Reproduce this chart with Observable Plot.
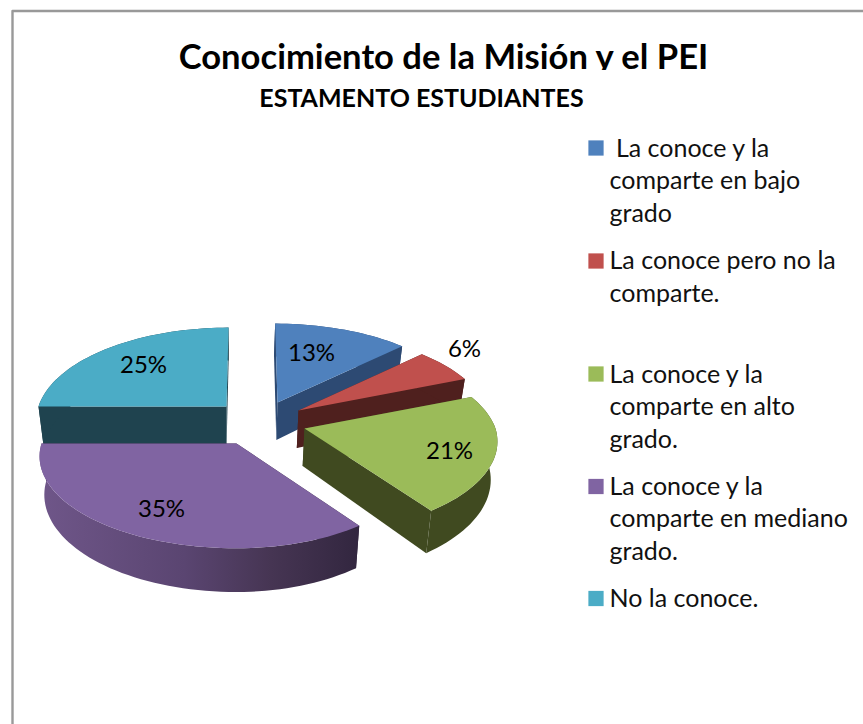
<!DOCTYPE html>
<html><head><meta charset="utf-8">
<style>html,body{margin:0;padding:0;background:#fff}svg{display:block}</style>
<script src="https://cdn.jsdelivr.net/npm/d3@7"></script>
<script src="https://cdn.jsdelivr.net/npm/@observablehq/plot@0.6"></script>
</head><body><script>
const categories = [" La conoce y la\ncomparte en bajo\ngrado","La conoce pero no la\ncomparte.","La conoce y la\ncomparte en alto\ngrado.","La conoce y la\ncomparte en mediano\ngrado.","No la conoce."];
const shares = [13,6,21,35,25];
const topColors = ["#4f81bd","#c0504d","#9bbb59","#8064a2","#4bacc6"];
const sideColors = ["#2d4a73","#4f201e","#404a20","url(#rimGrad)","#1f434f"];
const rimStops = [[0,"#6f5689"],[0.45,"#5a4571"],[0.72,"#463553"],[1,"#32263f"]];

// Projection layout of the exploded 3D pie
const apexX=[277,298,304,236,226], apexY=[402,410,428,443,406];
const radiusX=[190,190,191,195,188], radiusXRight=[190,190,191,185,188];
const radiusY=90, persp=0.141, depth=37.6, vanishX=250, vanishK=0.7, baseX=230, baseScale=0.975;
const labelX=[311,464,449,161,143], labelY=[353,349,451,509,365];
const legendY=[133,245.5,359,471,583], legendSwatchY=[147.5,260.5,373.5,486,598];

const project=(i,deg)=>{
  const a=deg*Math.PI/180, X=Math.sin(a), Y=Math.cos(a), d=1+persp*Y;
  const sh=Y>0?vanishK*(vanishX-apexX[i])*(1-1/d):0;
  const rx=X>0?radiusXRight[i]:radiusX[i];
  return {x:apexX[i]+rx*X/d+sh, y:apexY[i]-radiusY*Y/d, d};
};
const lower=p=>({x:baseX+(p.x-baseX)*baseScale, y:p.y+depth/p.d});

const rows=[]; let id=0;
const addPoly=(pts,fill)=>{id++; pts.forEach(p=>rows.push({x:p.x,y:p.y,z:id,fill}));};

const drawOrder=[4,0,1,3,2];
const cum=[0]; shares.forEach(v=>cum.push(cum[cum.length-1]+v));
for(const i of drawOrder){
  const a0=cum[i]*3.6, a1=cum[i+1]*3.6;
  const n=Math.max(8,Math.round((a1-a0)/2));
  const rim=d3.range(n+1).map(j=>project(i,a0+(a1-a0)*j/n));
  const apex={x:apexX[i],y:apexY[i],d:1};
  const first=rim[0], last=rim[n];
  const flat=i===3?"#33263f":sideColors[i];
  addPoly([apex,first,lower(first),lower(apex)],flat);
  addPoly([apex,last,lower(last),lower(apex)],flat);
  addPoly([...rim,...rim.map(lower).reverse()],sideColors[i]);
  addPoly([apex,...rim],topColors[i]);
}

const title=[{t:"Conocimiento de la Misión y el PEI",x:443,y:57}];
const subtitle=[{t:"ESTAMENTO ESTUDIANTES",x:421,y:98}];
const titleClip=[{x1:170,x2:720,y1:70,y2:80}];
const pct=shares.map((v,i)=>({t:v+"%",x:labelX[i],y:labelY[i]}));
const legend=categories.map((t,i)=>({t,x:609,y:legendY[i],c:topColors[i],sy:legendSwatchY[i]}));

const gradient=()=>{
  const defs=d3.create("svg:defs");
  const g=defs.append("linearGradient").attr("id","rimGrad").attr("gradientUnits","userSpaceOnUse")
    .attr("x1",40).attr("x2",360).attr("y1",0).attr("y2",0);
  rimStops.forEach(([o,c])=>g.append("stop").attr("offset",o).attr("stop-color",c));
  return defs.node();
};

const chart=Plot.plot({
  width:863,height:724,margin:0,
  x:{domain:[0,863],range:[0,863],axis:null},
  y:{domain:[0,724],range:[0,724],axis:null},
  style:{background:"#fff"},
  marks:[
    gradient,
    Plot.line([{x:12,y:724},{x:12,y:10.5},{x:863,y:10.5}],{x:"x",y:"y",stroke:"#999",strokeWidth:2.4}),
    Plot.line(rows,{x:"x",y:"y",z:"z",fill:"fill",stroke:"none",curve:"linear"}),
    Plot.text(title,{x:"x",y:"y",text:"t",fontFamily:"Lato",fontWeight:700,fontSize:34.6,fill:"#000"}),
    Plot.rect(titleClip,{x1:"x1",x2:"x2",y1:"y1",y2:"y2",fill:"#fff"}),
    Plot.text(subtitle,{x:"x",y:"y",text:"t",fontFamily:"Lato",fontWeight:700,fontSize:25,fill:"#000"}),
    Plot.text(pct,{x:"x",y:"y",text:"t",fontFamily:"Lato",fontSize:24,fill:"#000"}),
    Plot.text(legend,{x:"x",y:"y",text:"t",textAnchor:"start",lineAnchor:"top",fontFamily:"Lato",fontSize:25,lineHeight:1.3,fill:"#111"}),
    Plot.dot(legend,{x:595.5,y:"sy",symbol:"square",r:8.6,fill:"c",stroke:"none"})
  ]
});
document.body.appendChild(chart);
</script></body></html>
